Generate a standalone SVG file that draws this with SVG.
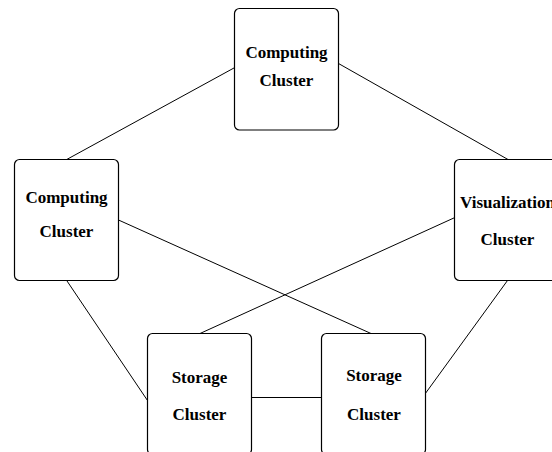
<svg xmlns="http://www.w3.org/2000/svg" width="552" height="452" viewBox="0 0 552 452">
<style>
.box{fill:#fff;stroke:#000;stroke-width:1.2}
.lbl{font-family:"Liberation Serif","Times New Roman",serif;font-weight:bold;font-size:17px;text-anchor:middle;fill:#000}
.edge{stroke:#000;stroke-width:1;fill:none}
</style>
<rect width="552" height="452" fill="#fff"/>
<g id="connectors">
<line class="edge" x1="234.5" y1="67.7" x2="66.7" y2="159.5"/>
<line class="edge" x1="338.5" y1="63.5" x2="508" y2="159.5"/>
<line class="edge" x1="118.5" y1="220" x2="371" y2="333.5"/>
<line class="edge" x1="454.5" y1="217.7" x2="200" y2="333.5"/>
<line class="edge" x1="66.7" y1="280.5" x2="147.5" y2="400.5"/>
<line class="edge" x1="507.5" y1="280.5" x2="425.5" y2="393.3"/>
<line class="edge" x1="251.5" y1="397.5" x2="321.5" y2="397.5"/>
</g>
<g id="computing-top">
<rect class="box" x="234.5" y="8.5" width="104" height="121.5" rx="5"/>
<text class="lbl" x="286.5" y="58.3">Computing</text>
<text class="lbl" x="286.5" y="86">Cluster</text>
</g>
<g id="computing-left">
<rect class="box" x="14.5" y="159.5" width="104" height="121" rx="5"/>
<text class="lbl" x="66.5" y="202.5">Computing</text>
<text class="lbl" x="66.5" y="237.3">Cluster</text>
</g>
<g id="visualization">
<rect class="box" x="454.5" y="159.5" width="104" height="121" rx="5"/>
<text class="lbl" x="507.5" y="208">Visualization</text>
<text class="lbl" x="507.5" y="245">Cluster</text>
</g>
<g id="storage-left">
<rect class="box" x="147.5" y="333.5" width="104" height="121" rx="5"/>
<text class="lbl" x="199.5" y="383">Storage</text>
<text class="lbl" x="199.5" y="419.6">Cluster</text>
</g>
<g id="storage-right">
<rect class="box" x="321.5" y="333.5" width="104" height="121" rx="5"/>
<text class="lbl" x="374" y="380.6">Storage</text>
<text class="lbl" x="374" y="419.6">Cluster</text>
</g>
</svg>
